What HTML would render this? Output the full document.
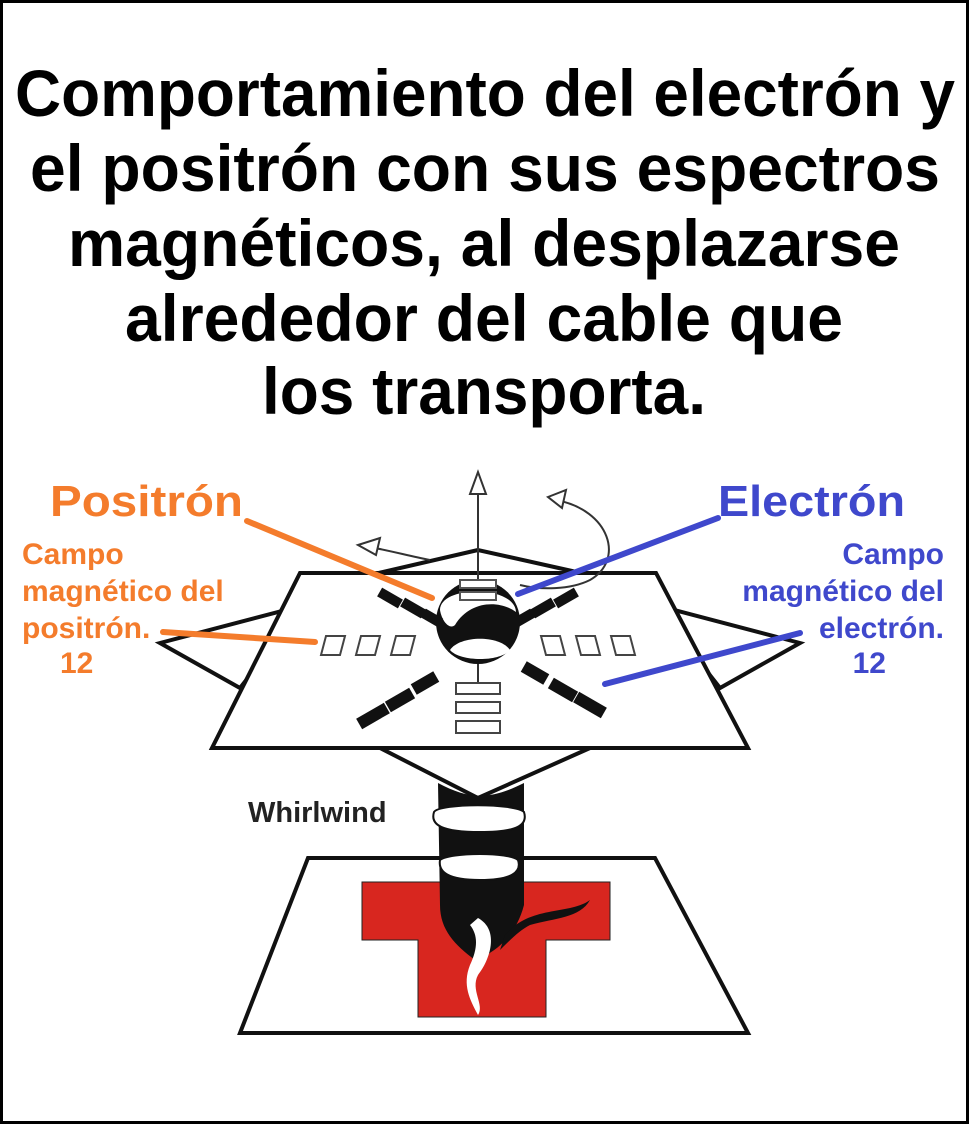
<!DOCTYPE html>
<html><head><meta charset="utf-8"><style>
html,body{margin:0;padding:0;background:#fff}
svg{display:block}
text{font-family:"Liberation Sans",Arial,sans-serif;font-weight:bold}
</style></head><body>
<svg width="970" height="1125" viewBox="0 0 970 1125" xmlns="http://www.w3.org/2000/svg">
<rect x="1.5" y="1.5" width="966" height="1121" fill="#fff" stroke="#000" stroke-width="3"/>
<g font-size="66" fill="#000">
<text x="15" y="116" textLength="940" lengthAdjust="spacingAndGlyphs">Comportamiento del electrón y</text>
<text x="30" y="191" textLength="910" lengthAdjust="spacingAndGlyphs">el positrón con sus espectros</text>
<text x="68" y="266" textLength="832" lengthAdjust="spacingAndGlyphs">magnéticos, al desplazarse</text>
<text x="125" y="341" textLength="718" lengthAdjust="spacingAndGlyphs">alrededor del cable que</text>
<text x="262" y="414" textLength="444" lengthAdjust="spacingAndGlyphs">los transporta.</text>
</g>
<g fill="#fff" stroke="#111" stroke-width="4" stroke-linejoin="miter">
<polygon points="160,643 305,605 240,688"/>
<polygon points="800,643 655,605 720,688"/>
<polygon points="478,550 370,575 590,575"/>
<polygon points="380,748 590,748 478,798"/>
<polygon points="300,573 656,573 748,748 212,748"/>
</g>
<g fill="none" stroke="#333" stroke-width="2">
<line x1="478" y1="480" x2="478" y2="690"/>
<polygon points="478,472 470,494 486,494" fill="#fff"/>
<path d="M556,500 C610,510 625,560 590,580 C570,590 540,590 520,585"/>
<polygon points="548,497 566,490 562,508" fill="#fff"/>
<path d="M430,560 C410,556 395,552 375,548"/>
<polygon points="358,545 380,538 376,555" fill="#fff"/>
</g>
<circle cx="478" cy="622" r="42" fill="#111"/>
<path d="M440,610 C440,585 515,585 516,612 C500,600 470,600 455,625 C450,630 442,622 440,610Z" fill="#fff"/>
<path d="M450,650 C460,635 500,635 510,650 C500,662 460,662 450,650Z" fill="#fff"/>
<g fill="#fff" stroke="#555" stroke-width="2">
<rect x="460" y="580" width="36" height="8"/><rect x="460" y="592" width="36" height="8"/>
</g>
<g fill="#111">
<g transform="translate(390,598) rotate(30)"><rect x="-12" y="-5" width="24" height="10"/></g>
<g transform="translate(413,608) rotate(30)"><rect x="-12" y="-5" width="24" height="10"/></g>
<g transform="translate(432,618) rotate(30)"><rect x="-10" y="-5" width="20" height="10"/></g>
<g transform="translate(566,598) rotate(-30)"><rect x="-12" y="-5" width="24" height="10"/></g>
<g transform="translate(543,608) rotate(-30)"><rect x="-12" y="-5" width="24" height="10"/></g>
<g transform="translate(524,618) rotate(-30)"><rect x="-10" y="-5" width="20" height="10"/></g>
<g transform="translate(373,716) rotate(-30)"><rect x="-16" y="-6" width="32" height="12"/></g>
<g transform="translate(400,700) rotate(-30)"><rect x="-14" y="-6" width="28" height="12"/></g>
<g transform="translate(425,683) rotate(-30)"><rect x="-13" y="-6" width="26" height="12"/></g>
<g transform="translate(590,705) rotate(30)"><rect x="-16" y="-6" width="32" height="12"/></g>
<g transform="translate(563,690) rotate(30)"><rect x="-14" y="-6" width="28" height="12"/></g>
<g transform="translate(535,673) rotate(30)"><rect x="-13" y="-6" width="26" height="12"/></g>
</g>
<g fill="#fff" stroke="#444" stroke-width="2">
<polygon points="326,636 345,636 340,655 321,655"/>
<polygon points="361,636 380,636 375,655 356,655"/>
<polygon points="396,636 415,636 410,655 391,655"/>
<polygon points="541,636 560,636 565,655 546,655"/>
<polygon points="576,636 595,636 600,655 581,655"/>
<polygon points="611,636 630,636 635,655 616,655"/>
<rect x="456" y="683" width="44" height="11"/>
<rect x="456" y="702" width="44" height="11"/>
<rect x="456" y="721" width="44" height="12"/>
</g>
<polygon points="308,858 655,858 748,1033 240,1033" fill="#fff" stroke="#111" stroke-width="4"/>
<polygon points="362,882 610,882 610,940 546,940 546,1017 418,1017 418,940 362,940" fill="#d8261f" stroke="#222" stroke-width="1"/>
<path d="M438,783 C470,800 490,800 524,783 L524,905 C515,940 490,955 475,960 C455,945 440,930 440,905Z" fill="#111"/>
<g fill="#fff" stroke="#111" stroke-width="2">
<path d="M434,812 C440,803 515,803 524,812 C528,825 518,832 480,832 C442,832 430,825 434,812Z"/>
<path d="M440,860 C450,852 510,852 518,860 C522,872 512,880 480,880 C448,880 438,872 440,860Z"/>
</g>
<path d="M478,918 C500,930 490,960 478,975 C470,990 485,1005 478,1015 C470,1000 462,985 470,965 C478,948 478,935 470,925Z" fill="#fff"/>
<path d="M505,935 C530,905 570,915 590,900 C580,918 555,918 530,925 C520,930 510,940 500,950Z" fill="#111"/>
<text x="248" y="822" font-size="29" fill="#222">Whirlwind</text>
<g fill="#f47c2c">
<text x="50" y="516" font-size="44" textLength="193" lengthAdjust="spacingAndGlyphs">Positrón</text>
<g font-size="30"><text x="22" y="564">Campo</text><text x="22" y="601">magnético del</text><text x="22" y="638">positrón.</text><text x="60" y="673">12</text></g>
</g>
<g fill="#3f48cc">
<text x="718" y="516" font-size="44" textLength="187" lengthAdjust="spacingAndGlyphs">Electrón</text>
<g font-size="30" text-anchor="end"><text x="944" y="564">Campo</text><text x="944" y="601">magnético del</text><text x="944" y="638">electrón.</text><text x="886" y="673">12</text></g>
</g>
<g stroke-width="6" stroke-linecap="round">
<line x1="247" y1="521" x2="432" y2="598" stroke="#f47c2c"/>
<line x1="163" y1="632" x2="315" y2="642" stroke="#f47c2c"/>
<line x1="718" y1="518" x2="518" y2="594" stroke="#3f48cc"/>
<line x1="800" y1="633" x2="605" y2="684" stroke="#3f48cc"/>
</g>
</svg>
</body></html>
